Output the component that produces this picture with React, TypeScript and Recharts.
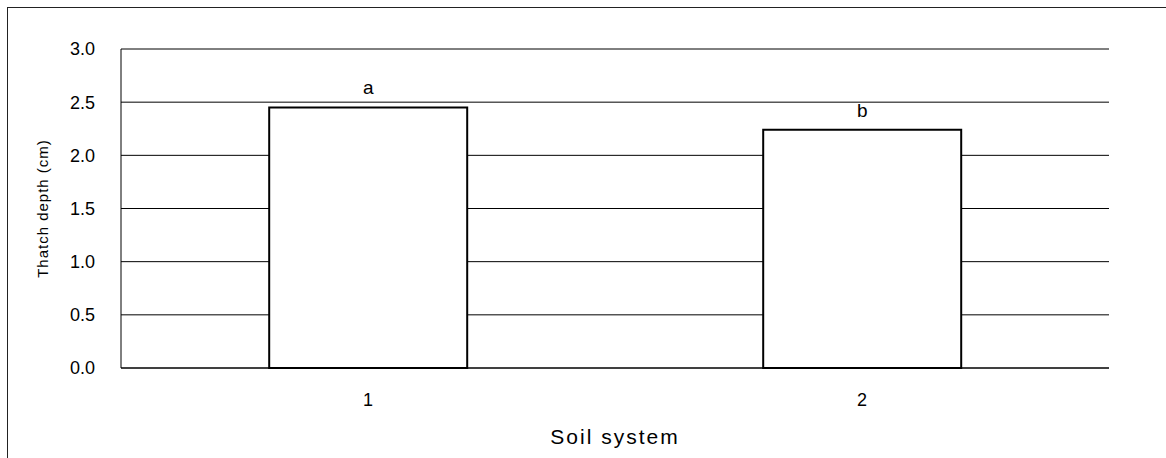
import { BarChart, Bar, XAxis, YAxis, CartesianGrid, LabelList } from "recharts";

const soilSystems = ["1", "2"];
const thatchDepth = [2.45, 2.24];
const sigLetters = ["a", "b"];
const yTicks = [0, 0.5, 1.0, 1.5, 2.0, 2.5, 3.0];

const data = soilSystems.map((s, i) => ({ name: s, depth: thatchDepth[i], sig: sigLetters[i] }));

const FONT = "'Liberation Sans', Arial, sans-serif";

export default function App() {
  return (
    <div style={{ position: "absolute", left: 0, top: 0, width: 1166, height: 458, background: "#fff", fontFamily: FONT }}>
      {/* outer frame, only top + left edges show in the crop */}
      <div style={{ position: "absolute", left: 7, top: 7, width: 1170, height: 470, borderTop: "1px solid #222", borderLeft: "1px solid #222" }} />
      <BarChart
        width={1166}
        height={458}
        data={data}
        margin={{ top: 49, right: 57, left: 0, bottom: 0 }}
        barCategoryGap="30%"
        style={{ position: "absolute", left: 0, top: 0 }}
      >
        <CartesianGrid vertical={false} stroke="#000" strokeWidth={1} />
        <XAxis
          dataKey="name"
          height={90}
          axisLine={{ stroke: "#000" }}
          tickLine={false}
          tickSize={0}
          tickMargin={25}
          tick={{ fill: "#000", fontSize: 18, fontFamily: FONT }}
          label={{ value: "Soil system", position: "insideBottom", offset: 14, fill: "#000", fontSize: 21, fontFamily: FONT, letterSpacing: 2 }}
        />
        <YAxis
          width={121}
          domain={[0, 3]}
          ticks={yTicks}
          tickFormatter={(v: number) => v.toFixed(1)}
          axisLine={{ stroke: "#000" }}
          tickLine={false}
          tickSize={0}
          tickMargin={26}
          tick={{ fill: "#000", fontSize: 18, fontFamily: FONT }}
          label={{ value: "Thatch depth (cm)", angle: -90, position: "insideLeft", offset: 43, fill: "#000", fontSize: 15, fontFamily: FONT, letterSpacing: 1, style: { textAnchor: "middle" } }}
        />
        <YAxis yAxisId="right" orientation="right" width={0} domain={[0, 3]} tick={false} tickLine={false} axisLine={{ stroke: "#000" }} />
        <Bar dataKey="depth" fill="#fff" stroke="#000" strokeWidth={2} isAnimationActive={false}>
          <LabelList dataKey="sig" position="top" offset={13} fill="#000" fontSize={19} fontFamily={FONT} />
        </Bar>
      </BarChart>
    </div>
  );
}
